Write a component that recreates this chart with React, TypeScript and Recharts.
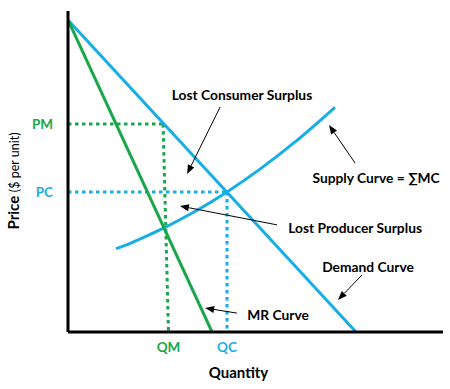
import {
  Line,
  LineChart,
  ReferenceDot,
  ReferenceLine,
  XAxis,
  YAxis,
} from 'recharts';

const BLUE = '#17aee6';
const GREEN = '#1aa64a';
const FONT = 'Lato, "Open Sans", sans-serif';

// quantity / price (axis: 0..125 by 0..107)
const demandQ = [0, 96];
const demandP = [104, 0];
const mrQ = [0, 48];
const mrP = [104, 0];
const supplyQ = [16, 20, 24, 32, 42, 53, 64, 76, 89];
const supplyP = [27.8, 29.2, 31.0, 34.7, 40.0, 46.7, 54.3, 63.6, 74.9];

const priceTickLabels = ['PM', 'PC'];
const priceTickValues = [69.3, 46.7];
const priceTickColors = [GREEN, BLUE];
const quantityTickLabels = ['QM', 'QC'];
const quantityTickValues = [33.5, 53];
const quantityTickColors = [GREEN, BLUE];

// callouts: text, label centre, arrow start, arrow tip
const calloutTexts = [
  'Lost Consumer Surplus',
  'Supply Curve = \u2211MC',
  'Lost Producer Surplus',
  'Demand Curve',
  'MR Curve',
];
const calloutAt = [
  [58, 79],
  [102.7, 51.3],
  [95.7, 34.7],
  [100, 21.7],
  [70, 5.7],
];
const arrowFrom = [
  [50.7, 75],
  [95.7, 56.3],
  [69.7, 35.7],
  [98, 19],
  [56.3, 6.3],
];
const arrowTo = [
  [39.7, 52.7],
  [87, 69],
  [37.3, 42],
  [90, 10.7],
  [45.7, 8],
];

const toPoints = (qs: number[], ps: number[]) => qs.map((q, i) => ({ q, p: ps[i] }));

const demand = toPoints(demandQ, demandP);
const mr = toPoints(mrQ, mrP);
const supply = toPoints(supplyQ, supplyP);

function Arrow(props: any) {
  const { x1, y1, x2, y2 } = props;
  const a = Math.atan2(y2 - y1, x2 - x1);
  const len = 9;
  const half = 3.5;
  const bx = x2 - len * Math.cos(a);
  const by = y2 - len * Math.sin(a);
  const px = -Math.sin(a) * half;
  const py = Math.cos(a) * half;
  return (
    <g>
      <line x1={x1} y1={y1} x2={bx} y2={by} stroke="#000" strokeWidth={1} />
      <polygon
        points={`${x2},${y2} ${bx + px},${by + py} ${bx - px},${by - py}`}
        fill="#000"
      />
    </g>
  );
}

export default function App() {
  return (
    <div style={{ width: 450, height: 389, background: '#fff' }}>
      <style>{'body{margin:0}'}</style>
      <LineChart
        width={450}
        height={389}
        margin={{ top: 11, right: 7, bottom: 0, left: 0 }}
      >
        <XAxis
          type="number"
          dataKey="q"
          domain={[0, 125]}
          allowDataOverflow
          height={57}
          axisLine={{ stroke: '#000', strokeWidth: 3 }}
          tickLine={false}
          tickSize={0}
          tickMargin={15}
          ticks={quantityTickValues}
          tick={(props: any) => {
            const i = quantityTickValues.indexOf(props.payload.value);
            return (
              <text
                x={props.x}
                y={props.y}
                dy="0.35em"
                textAnchor="middle"
                fill={quantityTickColors[i]}
                fontFamily={FONT}
                fontWeight={700}
                fontSize={13.5}
              >
                {quantityTickLabels[i]}
              </text>
            );
          }}
          label={{
            content: (p: any) => (
              <text
                x={p.viewBox.x + p.viewBox.width / 2 - 17}
                y={p.viewBox.y + 41}
                dy="0.35em"
                textAnchor="middle"
                fontFamily={FONT}
                fontWeight={700}
                fontSize={15}
                fill="#000"
              >
                Quantity
              </text>
            ),
          }}
        />
        <YAxis
          type="number"
          domain={[0, 107]}
          allowDataOverflow
          width={68}
          axisLine={{ stroke: '#000', strokeWidth: 3 }}
          tickLine={false}
          tickSize={0}
          tickMargin={15}
          ticks={priceTickValues}
          tick={(props: any) => {
            const i = priceTickValues.indexOf(props.payload.value);
            return (
              <text
                x={props.x}
                y={props.y}
                dy="0.35em"
                textAnchor="end"
                fill={priceTickColors[i]}
                fontFamily={FONT}
                fontWeight={700}
                fontSize={13.5}
              >
                {priceTickLabels[i]}
              </text>
            );
          }}
          label={{
            content: () => (
              <text
                transform="translate(13,181) rotate(-90)"
                textAnchor="middle"
                dy="0.35em"
                fontFamily={FONT}
                fill="#000"
              >
                <tspan fontWeight={700} fontSize={15}>
                  Price{' '}
                </tspan>
                <tspan fontSize={12.5}>($ per unit)</tspan>
              </text>
            ),
          }}
        />

        <ReferenceLine
          segment={[
            { x: 0, y: priceTickValues[0] },
            { x: 31.7, y: priceTickValues[0] },
          ]}
          stroke={GREEN}
          strokeWidth={3}
          strokeDasharray="3.5 3.5"
        />
        <ReferenceLine
          segment={[
            { x: 31.7, y: priceTickValues[0] },
            { x: 33.5, y: 0 },
          ]}
          stroke={GREEN}
          strokeWidth={3}
          strokeDasharray="3.5 3.5"
        />
        <ReferenceLine
          segment={[
            { x: 0, y: priceTickValues[1] },
            { x: quantityTickValues[1], y: priceTickValues[1] },
          ]}
          stroke={BLUE}
          strokeWidth={3}
          strokeDasharray="3.5 3.5"
        />
        <ReferenceLine
          segment={[
            { x: quantityTickValues[1], y: priceTickValues[1] },
            { x: quantityTickValues[1], y: 0 },
          ]}
          stroke={BLUE}
          strokeWidth={3}
          strokeDasharray="3.5 3.5"
        />

        <Line
          data={demand}
          dataKey="p"
          type="linear"
          stroke={BLUE}
          strokeWidth={3}
          dot={false}
          isAnimationActive={false}
        />
        <Line
          data={supply}
          dataKey="p"
          type="monotone"
          stroke={BLUE}
          strokeWidth={3}
          dot={false}
          isAnimationActive={false}
        />
        <Line
          data={mr}
          dataKey="p"
          type="linear"
          stroke={GREEN}
          strokeWidth={3}
          dot={false}
          isAnimationActive={false}
        />

        {arrowFrom.map((from, i) => (
          <ReferenceLine
            key={`arrow-${i}`}
            segment={[
              { x: from[0], y: from[1] },
              { x: arrowTo[i][0], y: arrowTo[i][1] },
            ]}
            shape={Arrow}
          />
        ))}
        {calloutTexts.map((text, i) => (
          <ReferenceDot
            key={`label-${i}`}
            x={calloutAt[i][0]}
            y={calloutAt[i][1]}
            r={0}
            shape={(p: any) => (
              <text
                x={p.cx}
                y={p.cy}
                dy="0.35em"
                textAnchor="middle"
                fontFamily={FONT}
                fontWeight={700}
                fontSize={13.8}
                fill="#000"
              >
                {text}
              </text>
            )}
          />
        ))}
      </LineChart>
    </div>
  );
}
